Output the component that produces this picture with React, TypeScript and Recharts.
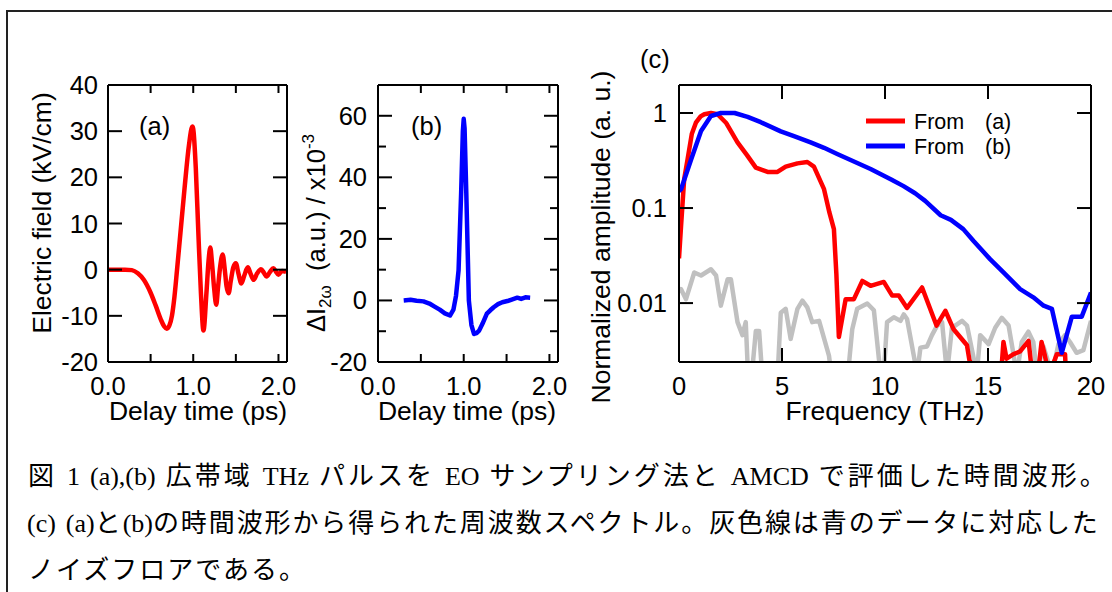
import React from 'react';
import { LineChart, Line, XAxis, YAxis, Legend } from 'recharts';

const SANS = '"Liberation Sans", Arial, Helvetica, sans-serif';
const SERIF = '"Liberation Serif", "Times New Roman", serif';
const CJK = '"Noto Sans CJK JP", "Noto Sans CJK SC", sans-serif';
const INK = '#000000';
const RED = '#ff0000';
const BLUE = '#0000ff';
const GRAY = '#c0c0c0';

// ---------- Panel (a): EO sampling waveform ----------
const aTime = [0, 0.1, 0.2, 0.28, 0.35, 0.42, 0.5, 0.56, 0.62, 0.66, 0.69, 0.72, 0.75, 0.78, 0.81, 0.85, 0.9, 0.95, 0.99, 1.0, 1.03, 1.06, 1.09, 1.12, 1.155, 1.18, 1.2, 1.22, 1.245, 1.27, 1.29, 1.315, 1.345, 1.37, 1.39, 1.415, 1.44, 1.47, 1.5, 1.53, 1.565, 1.6, 1.64, 1.675, 1.71, 1.75, 1.795, 1.83, 1.86, 1.9, 1.94, 1.97, 2.0, 2.04, 2.09];
const aField = [0, 0, 0, -0.1, -0.8, -2.2, -5, -7.8, -10.8, -12.3, -12.8, -12.1, -10, -5.8, 0, 8, 18, 27, 31, 30.5, 22, 8, -5, -13.2, -5, 2, 4.8, 1.5, -4, -7.6, -4, 0.5, 3.3, 0, -3.5, -5.1, -2.5, 0.5, 1.4, -0.8, -3.0, -1.2, 0.5, -1.0, -2.2, -0.8, 0.1, -0.7, -1.5, -0.5, 0.3, -0.4, -1.1, -0.3, -0.5];
const timeTicks = [0, 0.5, 1, 1.5, 2];
const timeLabels = [0, 1, 2];
const aYTicks = [-20, -10, 0, 10, 20, 30, 40];

// ---------- Panel (b): AMCD waveform ----------
const bTime = [0.3, 0.38, 0.45, 0.53, 0.6, 0.66, 0.72, 0.78, 0.84, 0.88, 0.91, 0.94, 0.97, 0.99, 1.0, 1.01, 1.03, 1.06, 1.09, 1.12, 1.15, 1.18, 1.22, 1.27, 1.31, 1.35, 1.4, 1.45, 1.51, 1.56, 1.625, 1.67, 1.72, 1.775];
const bSignal = [0, 0.2, -0.1, -0.3, -1.0, -2.0, -3.0, -4.2, -4.9, -3.0, 1.5, 9.8, 35, 55, 59, 56, 35, 0, -8, -10.9, -10.6, -9.8, -7.5, -4.3, -3.2, -2.2, -1.2, -0.6, -0.2, 0.3, 0.9, 0.5, 1.0, 0.9];
const bYTicks = [-20, -10, 0, 10, 20, 30, 40, 50, 60];
const bYLabels = [-20, 0, 20, 40, 60];

// ---------- Panel (c): spectra ----------
const cRedFreq = [0, 0.1, 0.25, 0.42, 0.62, 0.82, 1.05, 1.23, 1.55, 1.87, 2.28, 2.84, 3.3, 3.73, 4.3, 4.78, 5.18, 5.75, 6.23, 6.55, 7.04, 7.3, 7.52, 7.64, 7.76, 8.09, 8.49, 8.9, 9.3, 9.94, 10.35, 10.67, 11.07, 11.8, 12.5, 12.93, 13.33, 13.98, 14.1, 14.6, 15.2, 15.65, 15.75, 15.9, 16.24, 16.56, 16.97, 17.1, 17.3, 17.45, 17.6, 17.76, 17.9, 18.1, 18.34, 18.74, 18.8];
const cRedAmp = [0.0295, 0.065, 0.2, 0.33, 0.6, 0.79, 0.92, 0.97, 1.0, 0.97, 0.79, 0.49, 0.36, 0.266, 0.24, 0.24, 0.273, 0.295, 0.305, 0.273, 0.158, 0.09, 0.06, 0.02, 0.0044, 0.011, 0.011, 0.0171, 0.0152, 0.0167, 0.012, 0.012, 0.0089, 0.0146, 0.0058, 0.0083, 0.0053, 0.0036, 0.0025, 0.0015, 0.0012, 0.002, 0.0039, 0.0026, 0.0029, 0.0031, 0.004, 0.0022, 0.0015, 0.002, 0.0039, 0.0028, 0.002, 0.0021, 0.0029, 0.0029, 0.0015];
const cBlueFreq = [0, 0.1, 0.58, 1.07, 1.55, 2.03, 2.7, 3.33, 3.97, 4.94, 5.58, 6.39, 7.04, 7.68, 8.33, 9.3, 10.3, 10.9, 11.46, 11.95, 12.7, 13.2, 13.8, 14.3, 15.1, 15.75, 16.56, 17.2, 17.7, 18.1, 18.58, 19.07, 19.55, 20];
const cBlueAmp = [0.15, 0.158, 0.32, 0.645, 0.93, 1.0, 1.0, 0.91, 0.8, 0.64, 0.57, 0.49, 0.43, 0.37, 0.32, 0.257, 0.2, 0.17, 0.143, 0.119, 0.084, 0.075, 0.06, 0.045, 0.029, 0.021, 0.014, 0.0115, 0.0094, 0.0087, 0.003, 0.0072, 0.0072, 0.0129];
const cGrayFreq = [0, 0.1, 0.34, 0.74, 1.07, 1.55, 1.8, 2.03, 2.36, 2.52, 2.84, 3.08, 3.24, 3.36, 3.6, 3.73, 3.89, 4.05, 4.4, 4.78, 4.94, 5.18, 5.42, 5.75, 5.99, 6.23, 6.47, 6.8, 7.28, 7.44, 7.8, 8.17, 8.41, 8.65, 9.14, 9.46, 9.78, 9.94, 10.1, 10.43, 10.75, 10.91, 11.07, 11.56, 11.72, 12.04, 12.28, 12.53, 12.77, 13.01, 13.25, 13.74, 13.98, 14.46, 14.62, 15.03, 15.35, 15.67, 16.0, 16.4, 16.64, 16.96, 17.2, 17.37, 17.69, 18.1, 18.42, 18.74, 18.98, 19.3, 19.63, 20];
const cGrayAmp = [0.013, 0.014, 0.011, 0.021, 0.0195, 0.0227, 0.0195, 0.0094, 0.0178, 0.0178, 0.0063, 0.0046, 0.0063, 0.0016, 0.0025, 0.0051, 0.0051, 0.0016, 0.001, 0.0016, 0.0079, 0.0087, 0.0042, 0.0087, 0.0106, 0.009, 0.0063, 0.0065, 0.0028, 0.0015, 0.001, 0.0015, 0.0053, 0.0087, 0.0099, 0.0084, 0.0018, 0.0018, 0.0063, 0.0071, 0.0065, 0.0076, 0.0068, 0.0018, 0.0034, 0.0035, 0.0046, 0.0058, 0.0063, 0.0018, 0.0055, 0.0065, 0.0058, 0.0018, 0.0046, 0.0037, 0.0055, 0.007, 0.0058, 0.0018, 0.0039, 0.005, 0.0039, 0.0018, 0.0035, 0.0018, 0.0037, 0.0046, 0.0039, 0.003, 0.0032, 0.0065];
const cXTicks = [0, 5, 10, 15, 20];
const cYTicks = [0.01, 0.1, 1];
const cSeriesNames = ['From (a)', 'From (b)'];

// ---------- Text ----------
const aYTitle = 'Electric field (kV/cm)';
const timeTitle = 'Delay time (ps)';
const cXTitle = 'Frequency (THz)';
const cYTitle = 'Normalized amplitude (a. u.)';
const captionLines = [
  '図 1 (a),(b) 広帯域 THz パルスを EO サンプリング法と AMCD で評価した時間波形。',
  '(c) (a)と(b)の時間波形から得られた周波数スペクトル。灰色線は青のデータに対応した',
  'ノイズフロアである。',
];
const captionSpacing = [3.0, 1.9, 2.0];

const aData = aTime.map((t, i) => ({ t, v: aField[i] }));
const bData = bTime.map((t, i) => ({ t, v: bSignal[i] }));
const cRed = cRedFreq.map((f, i) => ({ f, a: cRedAmp[i] }));
const cBlue = cBlueFreq.map((f, i) => ({ f, a: cBlueAmp[i] }));
const cGray = cGrayFreq.map((f, i) => ({ f, a: cGrayAmp[i] }));

const fmt1 = (v: number) => v.toFixed(1);
const fmtPlain = (v: number) => String(v);
const inList = (list: number[] | undefined, v: number) => !list || list.some((l) => Math.abs(l - v) < 1e-9);
const axisLine = { stroke: INK, strokeWidth: 2 };

const isCJKChar = (ch: string) => /[\u3000-\u30ff\u3400-\u9fff\uff00-\uffef]/.test(ch);
function splitRuns(s: string) {
  const out: { t: string; cjk: boolean }[] = [];
  for (const ch of Array.from(s)) {
    const c = isCJKChar(ch);
    if (out.length && out[out.length - 1].cjk === c) out[out.length - 1].t += ch;
    else out.push({ t: ch, cjk: c });
  }
  return out;
}

function YTick(props: any) {
  const { x, y, payload, side, labels, long = 14, short = 8, fmt = fmtPlain, gap = 10 } = props;
  const v = Number(payload?.value);
  const major = inList(labels, v);
  const len = major ? long : short;
  const dir = side === 'left' ? 1 : -1;
  return (
    <g>
      <line x1={x} y1={y} x2={x + dir * len} y2={y} stroke={INK} strokeWidth={2} />
      {side === 'left' && major ? (
        <text x={x - gap} y={y + 9} textAnchor="end" fontFamily={SANS} fontSize={25.5} fill={INK}>
          {fmt(v)}
        </text>
      ) : null}
    </g>
  );
}

function XTick(props: any) {
  const { x, y, payload, side, labels, len = 8, fmt = fmtPlain } = props;
  const v = Number(payload?.value);
  const dir = side === 'bottom' ? -1 : 1;
  const show = side === 'bottom' && inList(labels, v);
  return (
    <g>
      <line x1={x} y1={y} x2={x} y2={y + dir * len} stroke={INK} strokeWidth={2} />
      {show ? (
        <text x={x} y={y + 33} textAnchor="middle" fontFamily={SANS} fontSize={25.5} fill={INK}>
          {fmt(v)}
        </text>
      ) : null}
    </g>
  );
}

function CLegend(props: any) {
  const items = (props.payload || []).filter((p: any) => p.type !== 'none' && p.value);
  return (
    <svg width={180} height={52} style={{ display: 'block', overflow: 'visible' }}>
      {items.map((it: any, i: number) => {
        const name = String(it.value);
        const k = name.indexOf(' ');
        const w1 = name.slice(0, k);
        const w2 = name.slice(k + 1);
        const cy = 12 + i * 25;
        return (
          <g key={name}>
            <line x1={4} x2={43} y1={cy} y2={cy} stroke={it.color} strokeWidth={5} />
            <text x={52} y={cy + 7.5} fontFamily={SANS} fontSize={21.5} fill={INK}>{w1}</text>
            <text x={123} y={cy + 7.5} fontFamily={SANS} fontSize={21.5} fill={INK}>{w2}</text>
          </g>
        );
      })}
    </svg>
  );
}

const abs = (left: number, top: number): React.CSSProperties => ({ position: 'absolute', left, top });

export default function App() {
  return (
    <div style={{ position: 'absolute', left: 0, top: 0, width: 1112, height: 592, background: '#ffffff', overflow: 'hidden' }}>
      {/* Panel (a) */}
      <div style={abs(0, 0)}>
        <LineChart width={300} height={440} data={aData} margin={{ top: 84, right: 12, bottom: 0, left: 0 }}>
          <XAxis xAxisId="b" dataKey="t" type="number" domain={[0, 2.1]} allowDataOverflow ticks={timeTicks} interval={0}
            orientation="bottom" height={78} axisLine={axisLine} tickLine={false} tickSize={0} tickMargin={0}
            tick={<XTick side="bottom" labels={timeLabels} len={8} fmt={fmt1} />} />
          <XAxis xAxisId="t" dataKey="t" type="number" domain={[0, 2.1]} allowDataOverflow ticks={timeTicks} interval={0}
            orientation="top" height={1} axisLine={axisLine} tickLine={false} tickSize={0} tickMargin={0}
            tick={<XTick side="top" len={8} />} />
          <YAxis yAxisId="l" type="number" domain={[-20, 40]} allowDataOverflow ticks={aYTicks} interval={0}
            orientation="left" width={108} axisLine={axisLine} tickLine={false} tickSize={0} tickMargin={0}
            tick={<YTick side="left" long={14} short={14} />} />
          <YAxis yAxisId="r" type="number" domain={[-20, 40]} allowDataOverflow ticks={aYTicks} interval={0}
            orientation="right" width={1} axisLine={axisLine} tickLine={false} tickSize={0} tickMargin={0}
            tick={<YTick side="right" long={14} short={14} />} />
          <Line xAxisId="b" yAxisId="l" dataKey="v" type="monotone" stroke={RED} strokeWidth={4.5}
            strokeLinejoin="round" dot={false} activeDot={false} isAnimationActive={false} />
        </LineChart>
      </div>

      {/* Panel (b) */}
      <div style={abs(290, 0)}>
        <LineChart width={290} height={440} data={bData} margin={{ top: 84, right: 21, bottom: 0, left: 0 }}>
          <XAxis xAxisId="b" dataKey="t" type="number" domain={[0, 2.1]} allowDataOverflow ticks={timeTicks} interval={0}
            orientation="bottom" height={78} axisLine={axisLine} tickLine={false} tickSize={0} tickMargin={0}
            tick={<XTick side="bottom" labels={timeLabels} len={8} fmt={fmt1} />} />
          <XAxis xAxisId="t" dataKey="t" type="number" domain={[0, 2.1]} allowDataOverflow ticks={timeTicks} interval={0}
            orientation="top" height={1} axisLine={axisLine} tickLine={false} tickSize={0} tickMargin={0}
            tick={<XTick side="top" len={8} />} />
          <YAxis yAxisId="l" type="number" domain={[-20, 70]} allowDataOverflow ticks={bYTicks} interval={0}
            orientation="left" width={88} axisLine={axisLine} tickLine={false} tickSize={0} tickMargin={0}
            tick={<YTick side="left" labels={bYLabels} long={14} short={8} gap={11} />} />
          <YAxis yAxisId="r" type="number" domain={[-20, 70]} allowDataOverflow ticks={bYTicks} interval={0}
            orientation="right" width={1} axisLine={axisLine} tickLine={false} tickSize={0} tickMargin={0}
            tick={<YTick side="right" labels={bYLabels} long={14} short={8} />} />
          <Line xAxisId="b" yAxisId="l" dataKey="v" type="linear" stroke={BLUE} strokeWidth={4.5}
            strokeLinejoin="round" dot={false} activeDot={false} isAnimationActive={false} />
        </LineChart>
      </div>

      {/* Panel (c) */}
      <div style={abs(580, 0)}>
        <LineChart width={532} height={440} margin={{ top: 84, right: 20, bottom: 0, left: 0 }}>
          <XAxis xAxisId="b" dataKey="f" type="number" domain={[0, 20]} allowDataOverflow ticks={cXTicks} interval={0}
            orientation="bottom" height={78} axisLine={axisLine} tickLine={false} tickSize={0} tickMargin={0}
            tick={<XTick side="bottom" len={14} />} />
          <XAxis xAxisId="t" dataKey="f" type="number" domain={[0, 20]} allowDataOverflow ticks={cXTicks} interval={0}
            orientation="top" height={1} axisLine={axisLine} tickLine={false} tickSize={0} tickMargin={0}
            tick={<XTick side="top" len={14} />} />
          <YAxis yAxisId="l" type="number" scale="log" domain={[0.0024, 1.97]} allowDataOverflow ticks={cYTicks} interval={0}
            orientation="left" width={99} axisLine={axisLine} tickLine={false} tickSize={0} tickMargin={0}
            tick={<YTick side="left" long={14} short={14} gap={12} />} />
          <YAxis yAxisId="r" type="number" scale="log" domain={[0.0024, 1.97]} allowDataOverflow ticks={cYTicks} interval={0}
            orientation="right" width={1} axisLine={axisLine} tickLine={false} tickSize={0} tickMargin={0}
            tick={<YTick side="right" long={14} short={14} />} />
          <Legend layout="vertical" align="center" verticalAlign="middle"
            wrapperStyle={{ position: 'absolute', left: 282, top: 109, width: 180, height: 52 }}
            content={(p: any) => <CLegend {...p} />} />
          <Line data={cGray} xAxisId="b" yAxisId="l" dataKey="a" name="noise" legendType="none" type="linear" stroke={GRAY}
            strokeWidth={4.5} strokeLinejoin="round" dot={false} activeDot={false} isAnimationActive={false} />
          <Line data={cRed} xAxisId="b" yAxisId="l" dataKey="a" name={cSeriesNames[0]} type="linear" stroke={RED}
            strokeWidth={4.5} strokeLinejoin="round" dot={false} activeDot={false} isAnimationActive={false} />
          <Line data={cBlue} xAxisId="b" yAxisId="l" dataKey="a" name={cSeriesNames[1]} type="linear" stroke={BLUE}
            strokeWidth={4.5} strokeLinejoin="round" dot={false} activeDot={false} isAnimationActive={false} />
        </LineChart>
      </div>

      {/* Titles, panel labels, frame and caption */}
      <svg width={1112} height={592} style={{ position: 'absolute', left: 0, top: 0, pointerEvents: 'none' }}>
        <line x1={7} y1={11} x2={1112} y2={11} stroke="#222" strokeWidth={2} />
        <line x1={7} y1={10} x2={7} y2={592} stroke="#222" strokeWidth={2} />

        <g fontFamily={SANS} fill={INK}>
          <text transform="translate(51,213) rotate(-90)" textAnchor="middle" fontSize={26.5}>{aYTitle}</text>
          <text x={198} y={420} textAnchor="middle" fontSize={26.5}>{timeTitle}</text>
          <text x={139} y={135} fontSize={25.5}>(a)</text>

          <text transform="translate(325,332) rotate(-90)" fontSize={25.5} style={{ whiteSpace: 'pre' }}>
            ΔI<tspan fontSize={17} dy={6}>2ω</tspan><tspan dy={-6}>{'  (a.u.) / x10'}</tspan><tspan fontSize={17} dy={-11}>-3</tspan>
          </text>
          <text x={467} y={420} textAnchor="middle" fontSize={26.5}>{timeTitle}</text>
          <text x={411} y={135} fontSize={25.5}>(b)</text>

          <text x={640} y={68} fontSize={25.5}>(c)</text>
          <text transform="translate(610,237) rotate(-90)" textAnchor="middle" fontSize={26.5}>{cYTitle}</text>
          <text x={885} y={420} textAnchor="middle" fontSize={26.5}>{cXTitle}</text>
        </g>

        <g fill={INK} style={{ whiteSpace: 'pre', wordSpacing: 3.5 }}>
          {captionLines.map((line, li) => (
            <text key={li} x={li === 1 ? 27 : 28} y={485 + li * 47}>
              {splitRuns(line).map((r, ri) => (
                <tspan key={ri} fontFamily={r.cjk ? CJK : SERIF} fontSize={26}
                  style={{ letterSpacing: r.cjk ? captionSpacing[li] : 0 }}>
                  {r.t}
                </tspan>
              ))}
            </text>
          ))}
        </g>
      </svg>
    </div>
  );
}
